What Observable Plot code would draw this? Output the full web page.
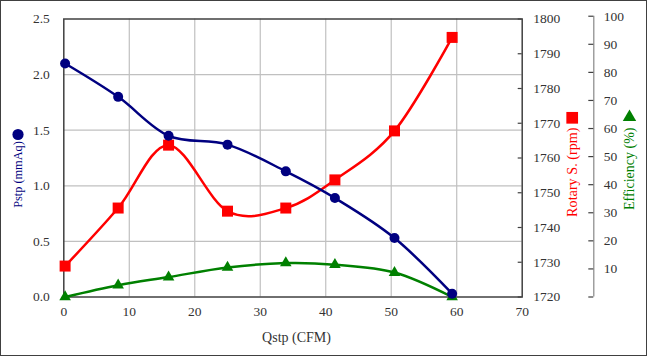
<!DOCTYPE html>
<html>
<head>
<meta charset="utf-8">
<script src="https://cdn.jsdelivr.net/npm/d3@7"></script>
<script src="https://cdn.jsdelivr.net/npm/@observablehq/plot@0.6"></script>
<style>
  html, body { margin: 0; padding: 0; background: #fff; }
  #chart { width: 645px; height: 354px; border: 1px solid #404040; overflow: hidden; }
  #chart svg { display: block; }
  #chart svg, #chart svg text, #chart svg g { font-family: 'Liberation Serif', 'DejaVu Serif', serif !important; }
</style>
</head>
<body>
<div id="chart"></div>
<script>
// ---- data ----
const qstp   = [0.2, 8.3, 16.0, 25.0, 33.9, 41.4, 50.5, 59.3];        // CFM
const pstp   = [2.10, 1.80, 1.45, 1.37, 1.13, 0.89, 0.53, 0.03];      // mmAq
const rotary = [1728.9, 1745.6, 1763.7, 1744.7, 1745.6, 1753.7, 1767.8, 1794.7]; // rpm
const effic  = [0, 4.2, 7.1, 10.5, 12.1, 11.5, 8.7, 0];               // %

const xTicks    = [0, 10, 20, 30, 40, 50, 60, 70];
const pTicks    = [0, 0.5, 1.0, 1.5, 2.0, 2.5];
const rpmTicks  = [1720, 1730, 1740, 1750, 1760, 1770, 1780, 1790, 1800];
const effTicks  = [0, 10, 20, 30, 40, 50, 60, 70, 80, 90, 100];
const effLabels = ["", "10", "20", "30", "40", "50", "60", "70", "80", "90", "100"];

// ---- secondary axes mapped onto the primary (Pstp) scale ----
const rpmMin = 1720, rpmMax = 1800;
const rpmToY = v => (v - rpmMin) / (rpmMax - rpmMin) * 2.5;
const effTop = 2.525;                 // position of 100 % on the Pstp scale
const effToY = v => v / 100 * effTop;

const W = 645, H = 354;
const mL = 62.3, mR = 124.3, mT = 17.5, mB = 58.5;
const frameW = W - mL - mR;
const effShift = 71.6;

const rows = qstp.map((q, i) => ({q, p: pstp[i], r: rpmToY(rotary[i]), e: effToY(effic[i])}));

const NAVY = "#000080", RED = "#ff0000", GREEN = "#008000";
const AX = "#404040";
const FONT = "'Liberation Serif', 'DejaVu Serif', serif";
const TICKFS = 13.5;

const chart = Plot.plot({
  width: W, height: H,
  marginLeft: mL, marginRight: mR, marginTop: mT, marginBottom: mB,
  x: {domain: [0, 70]},
  y: {domain: [0, 2.5]},
  style: {fontFamily: FONT, fontSize: "13px", color: "#333", background: "#fff", overflow: "visible"},
  marks: [
    Plot.gridX(xTicks.slice(1, -1), {stroke: "#c0c0c0", strokeOpacity: 1, strokeWidth: 1.2}),
    Plot.gridY(pTicks.slice(1, -1), {stroke: "#c0c0c0", strokeOpacity: 1, strokeWidth: 1.2}),
    Plot.frame({stroke: AX, strokeWidth: 1.5}),
    Plot.axisX(xTicks, {tickSize: 0, tickPadding: 9, label: null, fill: "#333", fontSize: TICKFS}),
    Plot.axisY(pTicks, {tickSize: 0, tickPadding: 14, tickFormat: d3.format(".1f"), label: null, fill: "#333", fontSize: TICKFS}),
    // rotary speed axis (right edge of frame)
    Plot.tickY(rpmTicks.map(rpmToY), {insetLeft: frameW - 4, stroke: AX, strokeWidth: 1.2}),
    Plot.axisY(rpmTicks.map(rpmToY), {anchor: "right", tickSize: 0, tickPadding: 11, tickFormat: (d, i) => String(rpmTicks[i]), label: null, fill: "#333", fontSize: TICKFS}),
    // efficiency axis (offset to the right)
    Plot.ruleX([70], {y1: 0, y2: effTop, dx: effShift, stroke: "#888", strokeWidth: 1.2}),
    Plot.tickY(effTicks.map(effToY), {insetLeft: frameW - 5, dx: effShift, stroke: AX, strokeWidth: 1.2}),
    Plot.axisY(effTicks.map(effToY), {anchor: "right", dx: effShift, tickSize: 0, tickPadding: 10, tickFormat: (d, i) => effLabels[i], label: null, fill: "#333", fontSize: TICKFS}),
    // series
    Plot.line(rows, {x: "q", y: "e", stroke: GREEN, strokeWidth: 2.5, curve: "cardinal"}),
    Plot.line(rows, {x: "q", y: "r", stroke: RED, strokeWidth: 2.5, curve: "cardinal"}),
    Plot.line(rows, {x: "q", y: "p", stroke: NAVY, strokeWidth: 2.5, curve: "cardinal"}),
    Plot.dot(rows, {x: "q", y: "e", symbol: "triangle", r: 4.3, fill: GREEN}),
    Plot.dot(rows, {x: "q", y: "r", symbol: "square", r: 6.2, fill: RED}),
    Plot.dot(rows, {x: "q", y: "p", symbol: "circle", r: 5, fill: NAVY}),
    // axis titles
    Plot.text(["Qstp (CFM)"], {frameAnchor: "bottom", textAnchor: "middle", lineAnchor: "middle", dx: 3.5, dy: 40.5, fill: "#333", fontSize: 14}),
    Plot.text(["Pstp (mmAq)"], {frameAnchor: "left", textAnchor: "middle", lineAnchor: "middle", dx: -45.8, dy: 16.5, rotate: -90, fill: NAVY, fontSize: 12.3}),
    Plot.dot(["Pstp"], {frameAnchor: "left", dx: -45.8, dy: -23.5, r: 5.6, fill: NAVY, symbol: "circle"}),
    Plot.text(["Rotary S. (rpm)"], {frameAnchor: "right", textAnchor: "middle", lineAnchor: "middle", dx: 50, dy: 14.2, rotate: -90, fill: RED, fontSize: 14.2}),
    Plot.dot(["Rotary"], {frameAnchor: "right", dx: 50, dy: -40.2, r: 6.6, fill: RED, symbol: "square"}),
    Plot.text(["Efficiency (%)"], {frameAnchor: "right", textAnchor: "middle", lineAnchor: "middle", dx: 107.3, dy: 10.8, rotate: -90, fill: GREEN, fontSize: 14}),
    Plot.dot(["Eff"], {frameAnchor: "right", dx: 107.3, dy: -40.8, r: 5, fill: GREEN, symbol: "triangle"})
  ]
});
document.getElementById("chart").appendChild(chart);
</script>
</body>
</html>
